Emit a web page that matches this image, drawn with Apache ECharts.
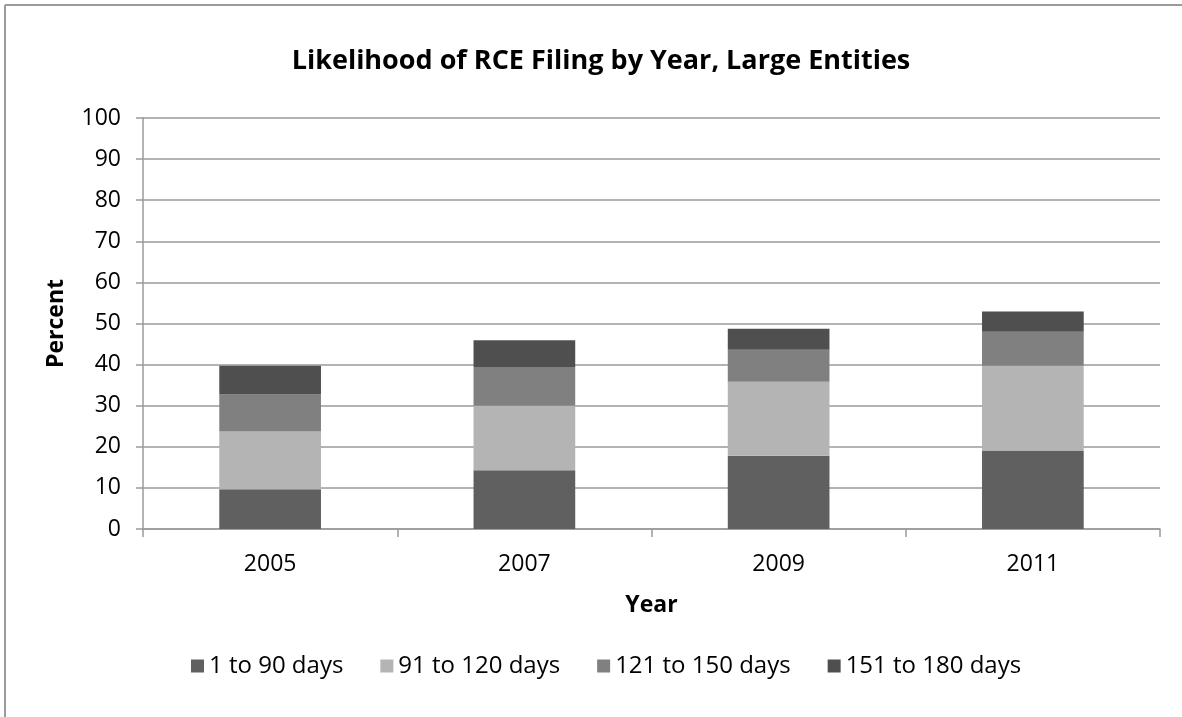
<!DOCTYPE html>
<html><head><meta charset="utf-8">
<script src="https://cdn.jsdelivr.net/npm/echarts@6/dist/echarts.min.js"></script>
<style>html,body{margin:0;padding:0;background:#fff}#c{width:1182px;height:717px}</style>
</head><body><div id="c"></div>
<script>
const years = ['2005', '2007', '2009', '2011'];
const days1to90 = [9.7, 14.3, 17.8, 19.1];
const days91to120 = [14.0, 15.7, 18.0, 20.6];
const days121to150 = [9.0, 9.4, 7.8, 8.3];
const days151to180 = [7.0, 6.5, 5.1, 4.9];
const seriesNames = ['1 to 90 days', '91 to 120 days', '121 to 150 days', '151 to 180 days'];
const seriesColors = ['#606060', '#b4b4b4', '#808080', '#4f4f4f'];
const seriesData = [days1to90, days91to120, days121to150, days151to180];

const FONT = '"Open Sans"';
const chart = echarts.init(document.getElementById('c'), null, {renderer: 'canvas'});
chart.setOption({
  animation: false,
  backgroundColor: '#fff',
  textStyle: {fontFamily: FONT, color: '#000'},
  graphic: [
    {type: 'line', silent: true, z: 100,
     shape: {x1: 5, y1: 5, x2: 1182, y2: 5},
     style: {stroke: '#9a9a9a', lineWidth: 2}},
    {type: 'line', silent: true, z: 100,
     shape: {x1: 5, y1: 5, x2: 5, y2: 717},
     style: {stroke: '#9a9a9a', lineWidth: 2}}
  ],
  title: {
    text: 'Likelihood of RCE Filing by Year, Large Entities',
    left: 596, textAlign: 'center', top: 43,
    textStyle: {fontFamily: FONT, fontSize: 27, fontWeight: 'bold', color: '#000'}
  },
  legend: {
    data: seriesNames,
    left: 186, top: 649,
    icon: 'rect', itemWidth: 13, itemHeight: 13, itemGap: 37,
    textStyle: {fontFamily: FONT, fontSize: 24, color: '#000'}
  },
  grid: {left: 143, right: 22, top: 118, bottom: 188, containLabel: false},
  xAxis: {
    type: 'category', data: years,
    name: 'Year', nameLocation: 'middle', nameGap: 65,
    nameTextStyle: {fontFamily: FONT, fontSize: 23, fontWeight: 'bold', color: '#000'},
    axisLine: {lineStyle: {color: '#9a9a9a', width: 1.5}},
    axisTick: {show: true, alignWithLabel: false, length: 8, lineStyle: {color: '#9a9a9a', width: 1.5}},
    axisLabel: {fontFamily: FONT, fontSize: 23, color: '#000', margin: 24}
  },
  yAxis: {
    type: 'value', min: 0, max: 100, interval: 10,
    name: 'Percent', nameLocation: 'middle', nameGap: 75, nameRotate: 90,
    nameTextStyle: {fontFamily: FONT, fontSize: 23, fontWeight: 'bold', color: '#000'},
    axisLine: {show: true, lineStyle: {color: '#9a9a9a', width: 1.5}},
    axisTick: {show: true, length: 7, lineStyle: {color: '#9a9a9a', width: 1.5}},
    axisLabel: {fontFamily: FONT, fontSize: 23, color: '#000', margin: 22},
    splitLine: {lineStyle: {color: '#9a9a9a', width: 1.5}}
  },
  series: seriesNames.map((n, i) => ({
    name: n, type: 'bar', stack: 'total', barWidth: '40%',
    data: seriesData[i],
    itemStyle: {color: seriesColors[i]}
  }))
});
</script></body></html>
